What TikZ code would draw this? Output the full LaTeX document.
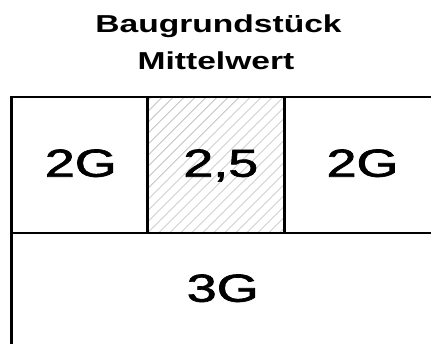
\documentclass[tikz,border=0pt]{standalone}
\usepackage{fontspec}
\setmainfont{Liberation Sans}
\newfontfamily\cellfont[FakeBold=1.6]{Liberation Sans}
\begin{document}
\begin{tikzpicture}[x=1pt,y=1pt,
  frame/.style={line width=2.6pt,black},
  hatch/.style={line width=0.7pt,black!27},
  celltext/.style={anchor=base,inner sep=0pt,font=\cellfont\fontsize{39}{39}\selectfont},
  titletext/.style={anchor=base,inner sep=0pt,font=\fontsize{24.5}{24.5}\selectfont\bfseries}]
\useasboundingbox (0,0) rectangle (431,344);
\clip (0,0) rectangle (431,344);
\fill[white] (0,0) rectangle (431,344);
% hatching of the middle cell
\begin{scope}
  \clip (147.5,111) rectangle (284.7,247);
  \foreach \k in {-14,...,14} {
    \draw[hatch] (147.5+\k*11,111) -- ++(136,136);
  }
\end{scope}
% frame lines
\coordinate (tl) at (11.5,247);
\coordinate (tr) at (445,247);
\coordinate (bl) at (11.5,-10);
\coordinate (ml) at (11.5,111);
\coordinate (mr) at (445,111);
\coordinate (v1t) at (147.5,247);
\coordinate (v1b) at (147.5,111);
\coordinate (v2t) at (284.7,247);
\coordinate (v2b) at (284.7,111);
\draw[frame] (tr) -- (tl) -- (bl);
\draw[frame] (ml) -- (mr);
\draw[frame] (v1t) -- (v1b);
\draw[frame] (v2t) -- (v2b);
% texts
\node[titletext] (t1) at (218.5,311) {\scalebox{1.37}[1]{Baugrundstück}};
\node[titletext] (t2) at (216,274) {\scalebox{1.37}[1]{Mittelwert}};
\node[celltext] (a) at (80.8,167.3) {\scalebox{1.38}[1]{2G}};
\node[celltext] (b) at (220.8,167.3) {\scalebox{1.38}[1]{2,5}};
\node[celltext] (c) at (362.5,167.3) {\scalebox{1.38}[1]{2G}};
\node[celltext] (d) at (222.7,42.3) {\scalebox{1.38}[1]{3G}};
\end{tikzpicture}
\end{document}
